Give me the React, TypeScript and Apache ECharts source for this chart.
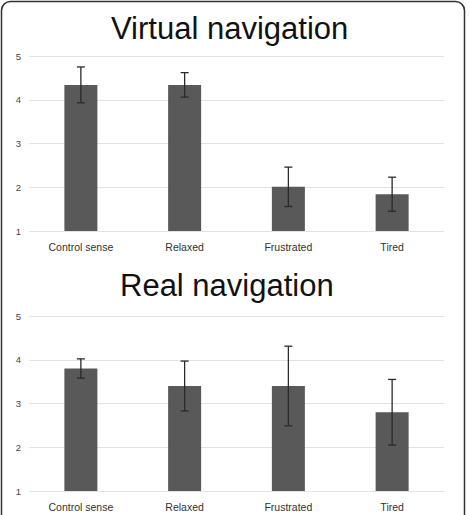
import React, { useEffect, useRef } from "react";
import * as echarts from "echarts";

const categories = ["Control sense", "Relaxed", "Frustrated", "Tired"];
const virtualMeans = [4.34, 4.34, 2.01, 1.84];
const virtualErr = [0.41, 0.28, 0.45, 0.39];
const realMeans = [3.8, 3.4, 3.4, 2.8];
const realErr = [0.22, 0.57, 0.91, 0.75];
const yTicks = [1, 2, 3, 4, 5];
const titles = ["Virtual navigation", "Real navigation"];

const FONT = "'Liberation Sans', Arial, sans-serif";

function errData(means: number[], errs: number[]) {
  return means.map((m, i) => [i, m - errs[i], m + errs[i]]);
}

function renderErr(params: any, api: any) {
  const x = api.value(0);
  const lo = api.coord([x, api.value(1)]);
  const hi = api.coord([x, api.value(2)]);
  const w = 4;
  const style = { stroke: "#2a2a2a", lineWidth: 1.3 };
  return {
    type: "group",
    children: [
      { type: "line", shape: { x1: hi[0], y1: hi[1], x2: lo[0], y2: lo[1] }, style },
      { type: "line", shape: { x1: hi[0] - w, y1: hi[1], x2: hi[0] + w, y2: hi[1] }, style },
      { type: "line", shape: { x1: lo[0] - w, y1: lo[1], x2: lo[0] + w, y2: lo[1] }, style },
    ],
  };
}

export default function App() {
  const ref = useRef<HTMLDivElement>(null);
  useEffect(() => {
    if (!ref.current) return;
    const chart = echarts.init(ref.current, null, { renderer: "svg" });
    const grids = [
      { left: 29, right: 25, top: 56, height: 175 },
      { left: 29, right: 25, top: 316, height: 175 },
    ];
    const xAxis = grids.map((_, gi) => ({
      type: "category",
      gridIndex: gi,
      data: categories,
      axisLine: { show: false },
      axisTick: { show: false },
      axisLabel: { color: "#333", fontSize: 10.5, fontFamily: FONT, margin: 10 },
    }));
    const yAxis = grids.map((_, gi) => ({
      type: "value",
      gridIndex: gi,
      min: yTicks[0],
      max: yTicks[yTicks.length - 1],
      interval: 1,
      axisLine: { show: false },
      axisTick: { show: false },
      axisLabel: { color: "#444", fontSize: 9.5, fontFamily: FONT, margin: 8 },
      splitLine: { show: true, lineStyle: { color: "#e3e3e3", width: 1.2 } },
    }));
    const option: any = {
      animation: false,
      backgroundColor: "#ffffff",
      title: [
        {
          text: titles[0],
          left: 106,
          top: 8,
          textStyle: { fontFamily: FONT, fontSize: 31, fontWeight: "normal", color: "#111" },
        },
        {
          text: titles[1],
          left: 115,
          top: 265,
          textStyle: { fontFamily: FONT, fontSize: 31, fontWeight: "normal", color: "#111" },
        },
      ],
      grid: grids,
      xAxis,
      yAxis,
      series: [
        {
          type: "bar",
          xAxisIndex: 0,
          yAxisIndex: 0,
          data: virtualMeans,
          barWidth: 33,
          itemStyle: { color: "#595959" },
        },
        {
          type: "custom",
          xAxisIndex: 0,
          yAxisIndex: 0,
          data: errData(virtualMeans, virtualErr),
          renderItem: renderErr,
          z: 5,
        },
        {
          type: "bar",
          xAxisIndex: 1,
          yAxisIndex: 1,
          data: realMeans,
          barWidth: 33,
          itemStyle: { color: "#595959" },
        },
        {
          type: "custom",
          xAxisIndex: 1,
          yAxisIndex: 1,
          data: errData(realMeans, realErr),
          renderItem: renderErr,
          z: 5,
        },
      ],
      graphic: [
        {
          type: "rect",
          shape: { x: 1.5, y: 1.5, width: 463, height: 540, r: 9 },
          style: { fill: "none", stroke: "#333", lineWidth: 1.5 },
          silent: true,
        },
      ],
    };
    chart.setOption(option);
    return () => chart.dispose();
  }, []);
  return (
    <div
      ref={ref}
      style={{ position: "fixed", left: 0, top: 0, width: 469, height: 515 }}
    />
  );
}
